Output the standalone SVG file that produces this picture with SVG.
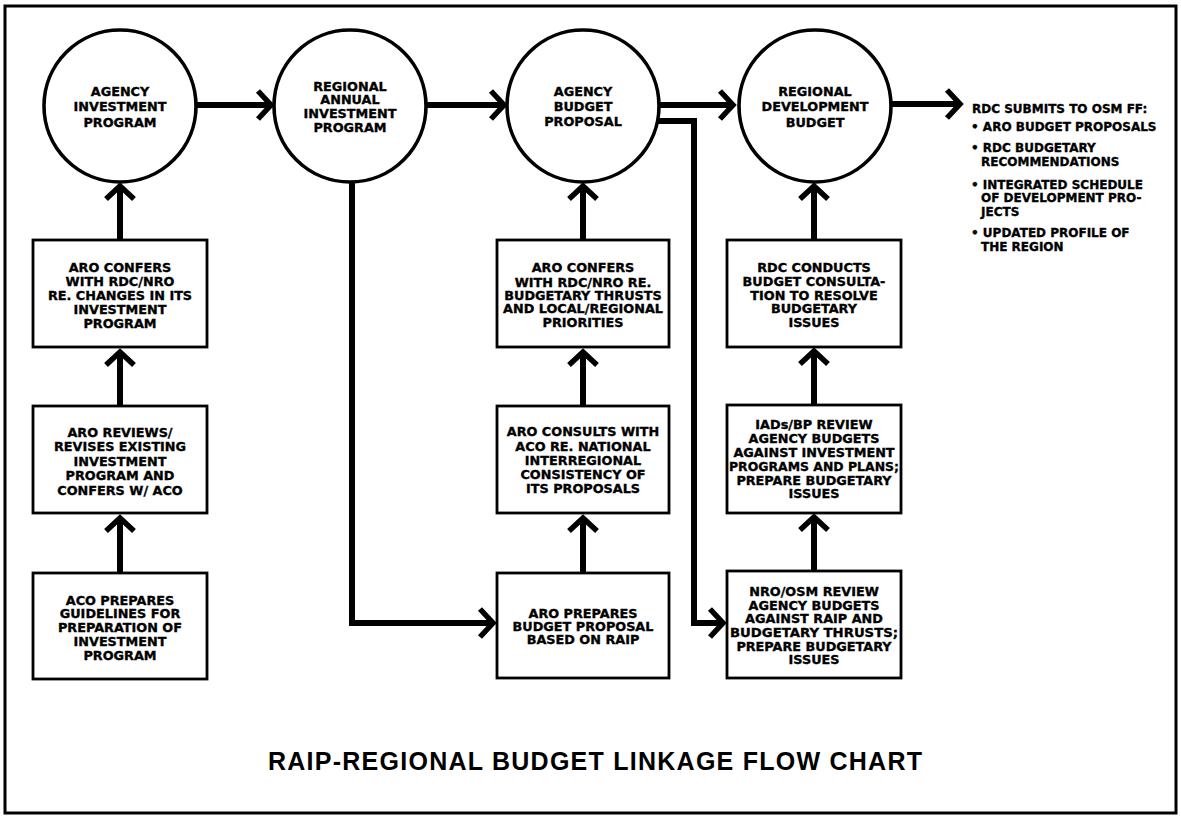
<svg xmlns="http://www.w3.org/2000/svg" width="1181" height="816" viewBox="0 0 1181 816">
  <style>
    .frame { fill: none; stroke: #000; stroke-width: 3; }
    .node circle { fill: #fff; stroke: #000; stroke-width: 3.6; }
    .node rect { fill: #fff; stroke: #000; stroke-width: 2.8; }
    .lbl { font-family: "DejaVu Sans", "Liberation Sans", sans-serif; font-weight: bold; font-size: 12.8px; fill: #000; stroke: #000; stroke-width: 0.35; text-anchor: middle; }
    .note { font-family: "DejaVu Sans", "Liberation Sans", sans-serif; font-weight: bold; font-size: 12px; fill: #000; stroke: #000; stroke-width: 0.35; }
    .title { font-family: "Liberation Sans", Arial, sans-serif; font-weight: bold; font-size: 25px; fill: #000; text-anchor: middle; }
    .conn path { fill: none; stroke: #000; stroke-width: 6; marker-end: url(#chev); }
  </style>
  <defs>
    <!-- open chevron arrowhead, tip at the path end -->
    <marker id="chev" markerUnits="userSpaceOnUse" viewBox="-24 -20 32 40" markerWidth="32" markerHeight="40" refX="0" refY="0" orient="auto" overflow="visible">
      <path d="M-13,-14 L0,0 L-13,14" fill="none" stroke="#000" stroke-width="5.5"/>
    </marker>
  </defs>

  <rect width="1181" height="816" fill="#fff"/>
  <rect class="frame" x="5" y="6" width="1171" height="807"/>

  <!-- connectors -->
  <g id="connectors" class="conn">
    <path d="M196,105 H271"/>
    <path d="M426,105 H504"/>
    <path d="M659,105 H733"/>
    <path d="M891,104 H960"/>
    <path d="M656,121 H694 V623 H723"/>
    <path d="M352,182 V623 H493"/>
    <path d="M120,240 V186"/>
    <path d="M120,406 V352"/>
    <path d="M120,573 V518"/>
    <path d="M583,240 V186"/>
    <path d="M583,406 V352"/>
    <path d="M583,573 V518"/>
    <path d="M814,240 V186"/>
    <path d="M814,405 V351"/>
    <path d="M814,571 V517"/>
  </g>

  <!-- circles -->
  <g id="agency-investment-program" class="node">
    <circle cx="120" cy="106" r="76"/>
    <text class="lbl" x="120" y="95.5">AGENCY</text>
    <text class="lbl" x="120" y="111">INVESTMENT</text>
    <text class="lbl" x="120" y="126.5">PROGRAM</text>
  </g>
  <g id="regional-annual-investment-program" class="node">
    <circle cx="350" cy="106" r="76"/>
    <text class="lbl" x="350" y="90.5">REGIONAL</text>
    <text class="lbl" x="350" y="104">ANNUAL</text>
    <text class="lbl" x="350" y="118">INVESTMENT</text>
    <text class="lbl" x="350" y="132">PROGRAM</text>
  </g>
  <g id="agency-budget-proposal" class="node">
    <circle cx="583" cy="106" r="76"/>
    <text class="lbl" x="583" y="96">AGENCY</text>
    <text class="lbl" x="583" y="111">BUDGET</text>
    <text class="lbl" x="583" y="125.5">PROPOSAL</text>
  </g>
  <g id="regional-development-budget" class="node">
    <circle cx="815" cy="106" r="76"/>
    <text class="lbl" x="815" y="95.5">REGIONAL</text>
    <text class="lbl" x="815" y="111">DEVELOPMENT</text>
    <text class="lbl" x="815" y="126.5">BUDGET</text>
  </g>

  <!-- column 1 -->
  <g id="aro-confers-investment" class="node">
    <rect x="33" y="240" width="174" height="107"/>
    <text class="lbl" x="120" y="271.5">ARO CONFERS</text>
    <text class="lbl" x="120" y="286">WITH RDC/NRO</text>
    <text class="lbl" x="120" y="300">RE. CHANGES IN ITS</text>
    <text class="lbl" x="120" y="314">INVESTMENT</text>
    <text class="lbl" x="120" y="328">PROGRAM</text>
  </g>
  <g id="aro-reviews" class="node">
    <rect x="33" y="406" width="174" height="107"/>
    <text class="lbl" x="120" y="437">ARO REVIEWS/</text>
    <text class="lbl" x="120" y="451">REVISES EXISTING</text>
    <text class="lbl" x="120" y="466">INVESTMENT</text>
    <text class="lbl" x="120" y="480">PROGRAM AND</text>
    <text class="lbl" x="120" y="494.5">CONFERS W/ ACO</text>
  </g>
  <g id="aco-prepares-guidelines" class="node">
    <rect x="33" y="573" width="174" height="106"/>
    <text class="lbl" x="120" y="604.5">ACO PREPARES</text>
    <text class="lbl" x="120" y="618">GUIDELINES FOR</text>
    <text class="lbl" x="120" y="632">PREPARATION OF</text>
    <text class="lbl" x="120" y="645.5">INVESTMENT</text>
    <text class="lbl" x="120" y="659.5">PROGRAM</text>
  </g>

  <!-- column 3 -->
  <g id="aro-confers-budgetary" class="node">
    <rect x="497" y="240" width="172" height="107"/>
    <text class="lbl" x="583" y="271.5">ARO CONFERS</text>
    <text class="lbl" x="583" y="286.5">WITH RDC/NRO RE.</text>
    <text class="lbl" x="583" y="300">BUDGETARY THRUSTS</text>
    <text class="lbl" x="583" y="313">AND LOCAL/REGIONAL</text>
    <text class="lbl" x="583" y="327">PRIORITIES</text>
  </g>
  <g id="aro-consults-aco" class="node">
    <rect x="497" y="406" width="172" height="107"/>
    <text class="lbl" x="583" y="436">ARO CONSULTS WITH</text>
    <text class="lbl" x="583" y="451">ACO RE. NATIONAL</text>
    <text class="lbl" x="583" y="465">INTERREGIONAL</text>
    <text class="lbl" x="583" y="478.5">CONSISTENCY OF</text>
    <text class="lbl" x="583" y="493">ITS PROPOSALS</text>
  </g>
  <g id="aro-prepares-budget" class="node">
    <rect x="497" y="573" width="172" height="105"/>
    <text class="lbl" x="583" y="618">ARO PREPARES</text>
    <text class="lbl" x="583" y="631">BUDGET PROPOSAL</text>
    <text class="lbl" x="583" y="644">BASED ON RAIP</text>
  </g>

  <!-- column 4 -->
  <g id="rdc-conducts-consultation" class="node">
    <rect x="727" y="240" width="174" height="107"/>
    <text class="lbl" x="814" y="271.5">RDC CONDUCTS</text>
    <text class="lbl" x="814" y="286">BUDGET CONSULTA-</text>
    <text class="lbl" x="814" y="299.5">TION TO RESOLVE</text>
    <text class="lbl" x="814" y="313">BUDGETARY</text>
    <text class="lbl" x="814" y="326.5">ISSUES</text>
  </g>
  <g id="iads-bp-review" class="node">
    <rect x="727" y="405" width="174" height="108"/>
    <text class="lbl" x="814" y="428.5">IADs/BP REVIEW</text>
    <text class="lbl" x="814" y="443">AGENCY BUDGETS</text>
    <text class="lbl" x="814" y="457">AGAINST INVESTMENT</text>
    <text class="lbl" x="814" y="471" textLength="170" lengthAdjust="spacingAndGlyphs">PROGRAMS AND PLANS;</text>
    <text class="lbl" x="814" y="484.5">PREPARE BUDGETARY</text>
    <text class="lbl" x="814" y="498">ISSUES</text>
  </g>
  <g id="nro-osm-review" class="node">
    <rect x="727" y="571" width="174" height="107"/>
    <text class="lbl" x="814" y="596">NRO/OSM REVIEW</text>
    <text class="lbl" x="814" y="609.5">AGENCY BUDGETS</text>
    <text class="lbl" x="814" y="623">AGAINST RAIP AND</text>
    <text class="lbl" x="814" y="636.5" textLength="168" lengthAdjust="spacingAndGlyphs">BUDGETARY THRUSTS;</text>
    <text class="lbl" x="814" y="650.5">PREPARE BUDGETARY</text>
    <text class="lbl" x="814" y="664">ISSUES</text>
  </g>

  <!-- submission list -->
  <g id="rdc-submits" class="node">
    <text class="note" x="972" y="112.5">RDC SUBMITS TO OSM FF:</text>
    <text class="note" x="971" y="130.5">• ARO BUDGET PROPOSALS</text>
    <text class="note" x="971" y="151.5">• RDC BUDGETARY</text>
    <text class="note" x="981" y="165.5">RECOMMENDATIONS</text>
    <text class="note" x="971" y="188.5">• INTEGRATED SCHEDULE</text>
    <text class="note" x="981" y="202">OF DEVELOPMENT PRO-</text>
    <text class="note" x="981" y="215.5">JECTS</text>
    <text class="note" x="971" y="237">• UPDATED PROFILE OF</text>
    <text class="note" x="981" y="250.5">THE REGION</text>
  </g>

  <text class="title" x="595" y="770" textLength="654" lengthAdjust="spacing">RAIP-REGIONAL BUDGET LINKAGE FLOW CHART</text>
</svg>
